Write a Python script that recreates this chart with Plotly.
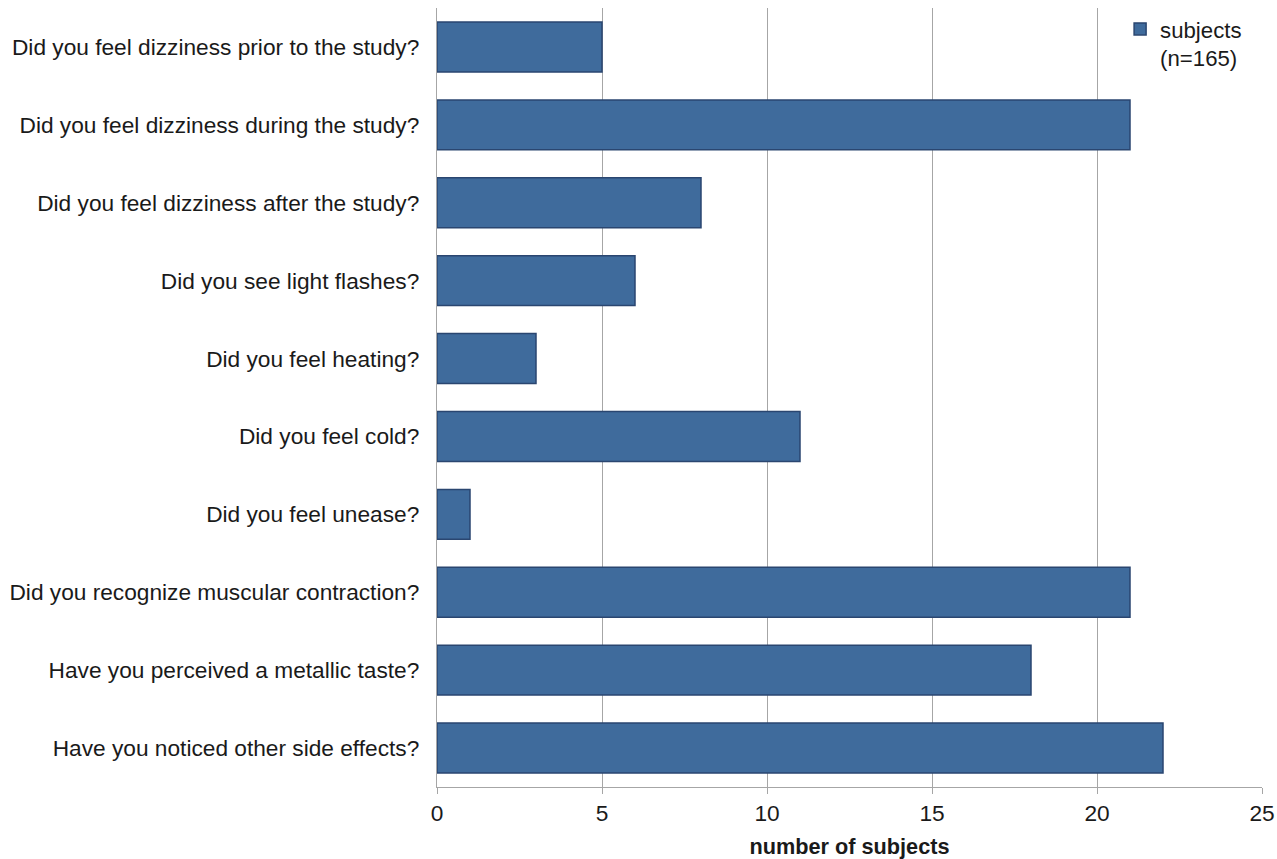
import plotly.graph_objects as go

questions = [
    "Did you feel dizziness prior to the study?",
    "Did you feel dizziness during the study?",
    "Did you feel dizziness after the study?",
    "Did you see light flashes?",
    "Did you feel heating?",
    "Did you feel cold?",
    "Did you feel unease?",
    "Did you recognize muscular contraction?",
    "Have you perceived a metallic taste?",
    "Have you noticed other side effects?",
]
subjects = [5, 21, 8, 6, 3, 11, 1, 21, 18, 22]
x_ticks = [0, 5, 10, 15, 20, 25]
series_name = "subjects<br>(n=165)"
x_title = "number of subjects"

FONT = "Liberation Sans, Arial, sans-serif"
FS = 22.7

fig = go.Figure()
fig.add_trace(go.Bar(
    y=questions,
    x=subjects,
    orientation="h",
    name=series_name,
    marker=dict(color="#3f6b9c", line=dict(color="#2a4670", width=1.5)),
    showlegend=True,
))

fig.update_layout(
    width=1277, height=859,
    margin=dict(l=437, r=15, t=8, b=72, autoexpand=False),
    paper_bgcolor="white", plot_bgcolor="white",
    bargap=0.36,
    font=dict(family=FONT, size=FS, color="#1a1a1a"),
    legend=dict(x=0.828, y=1.0, xanchor="left", yanchor="top",
                bgcolor="rgba(255,255,255,0)", valign="top",
                font=dict(size=FS - 0.5, family=FONT, color="#1a1a1a"),
                itemwidth=30, tracegroupgap=0),
    showlegend=True,
)
fig.update_xaxes(
    range=[0, 25], tickvals=x_ticks, ticktext=[str(v) for v in x_ticks],
    showgrid=True, gridcolor="#a6a6a6", gridwidth=1.3,
    showline=True, linecolor="#a6a6a6", linewidth=1.3,
    ticks="outside", ticklen=6, tickcolor="#a6a6a6",
    tickfont=dict(size=FS, family=FONT, color="#1a1a1a"),
    zeroline=False, automargin=False,
    title=dict(text="<b>" + x_title + "</b>", font=dict(size=FS - 1, family=FONT, color="#1a1a1a"), standoff=14),
)
fig.update_yaxes(
    categoryorder="array", categoryarray=questions, autorange="reversed",
    showgrid=False, showline=True, linecolor="#a6a6a6", linewidth=1.3,
    ticks="", ticklabelstandoff=12, automargin=False,
    tickfont=dict(size=FS, family=FONT, color="#1a1a1a"),
)

fig.write_html("out.html")
